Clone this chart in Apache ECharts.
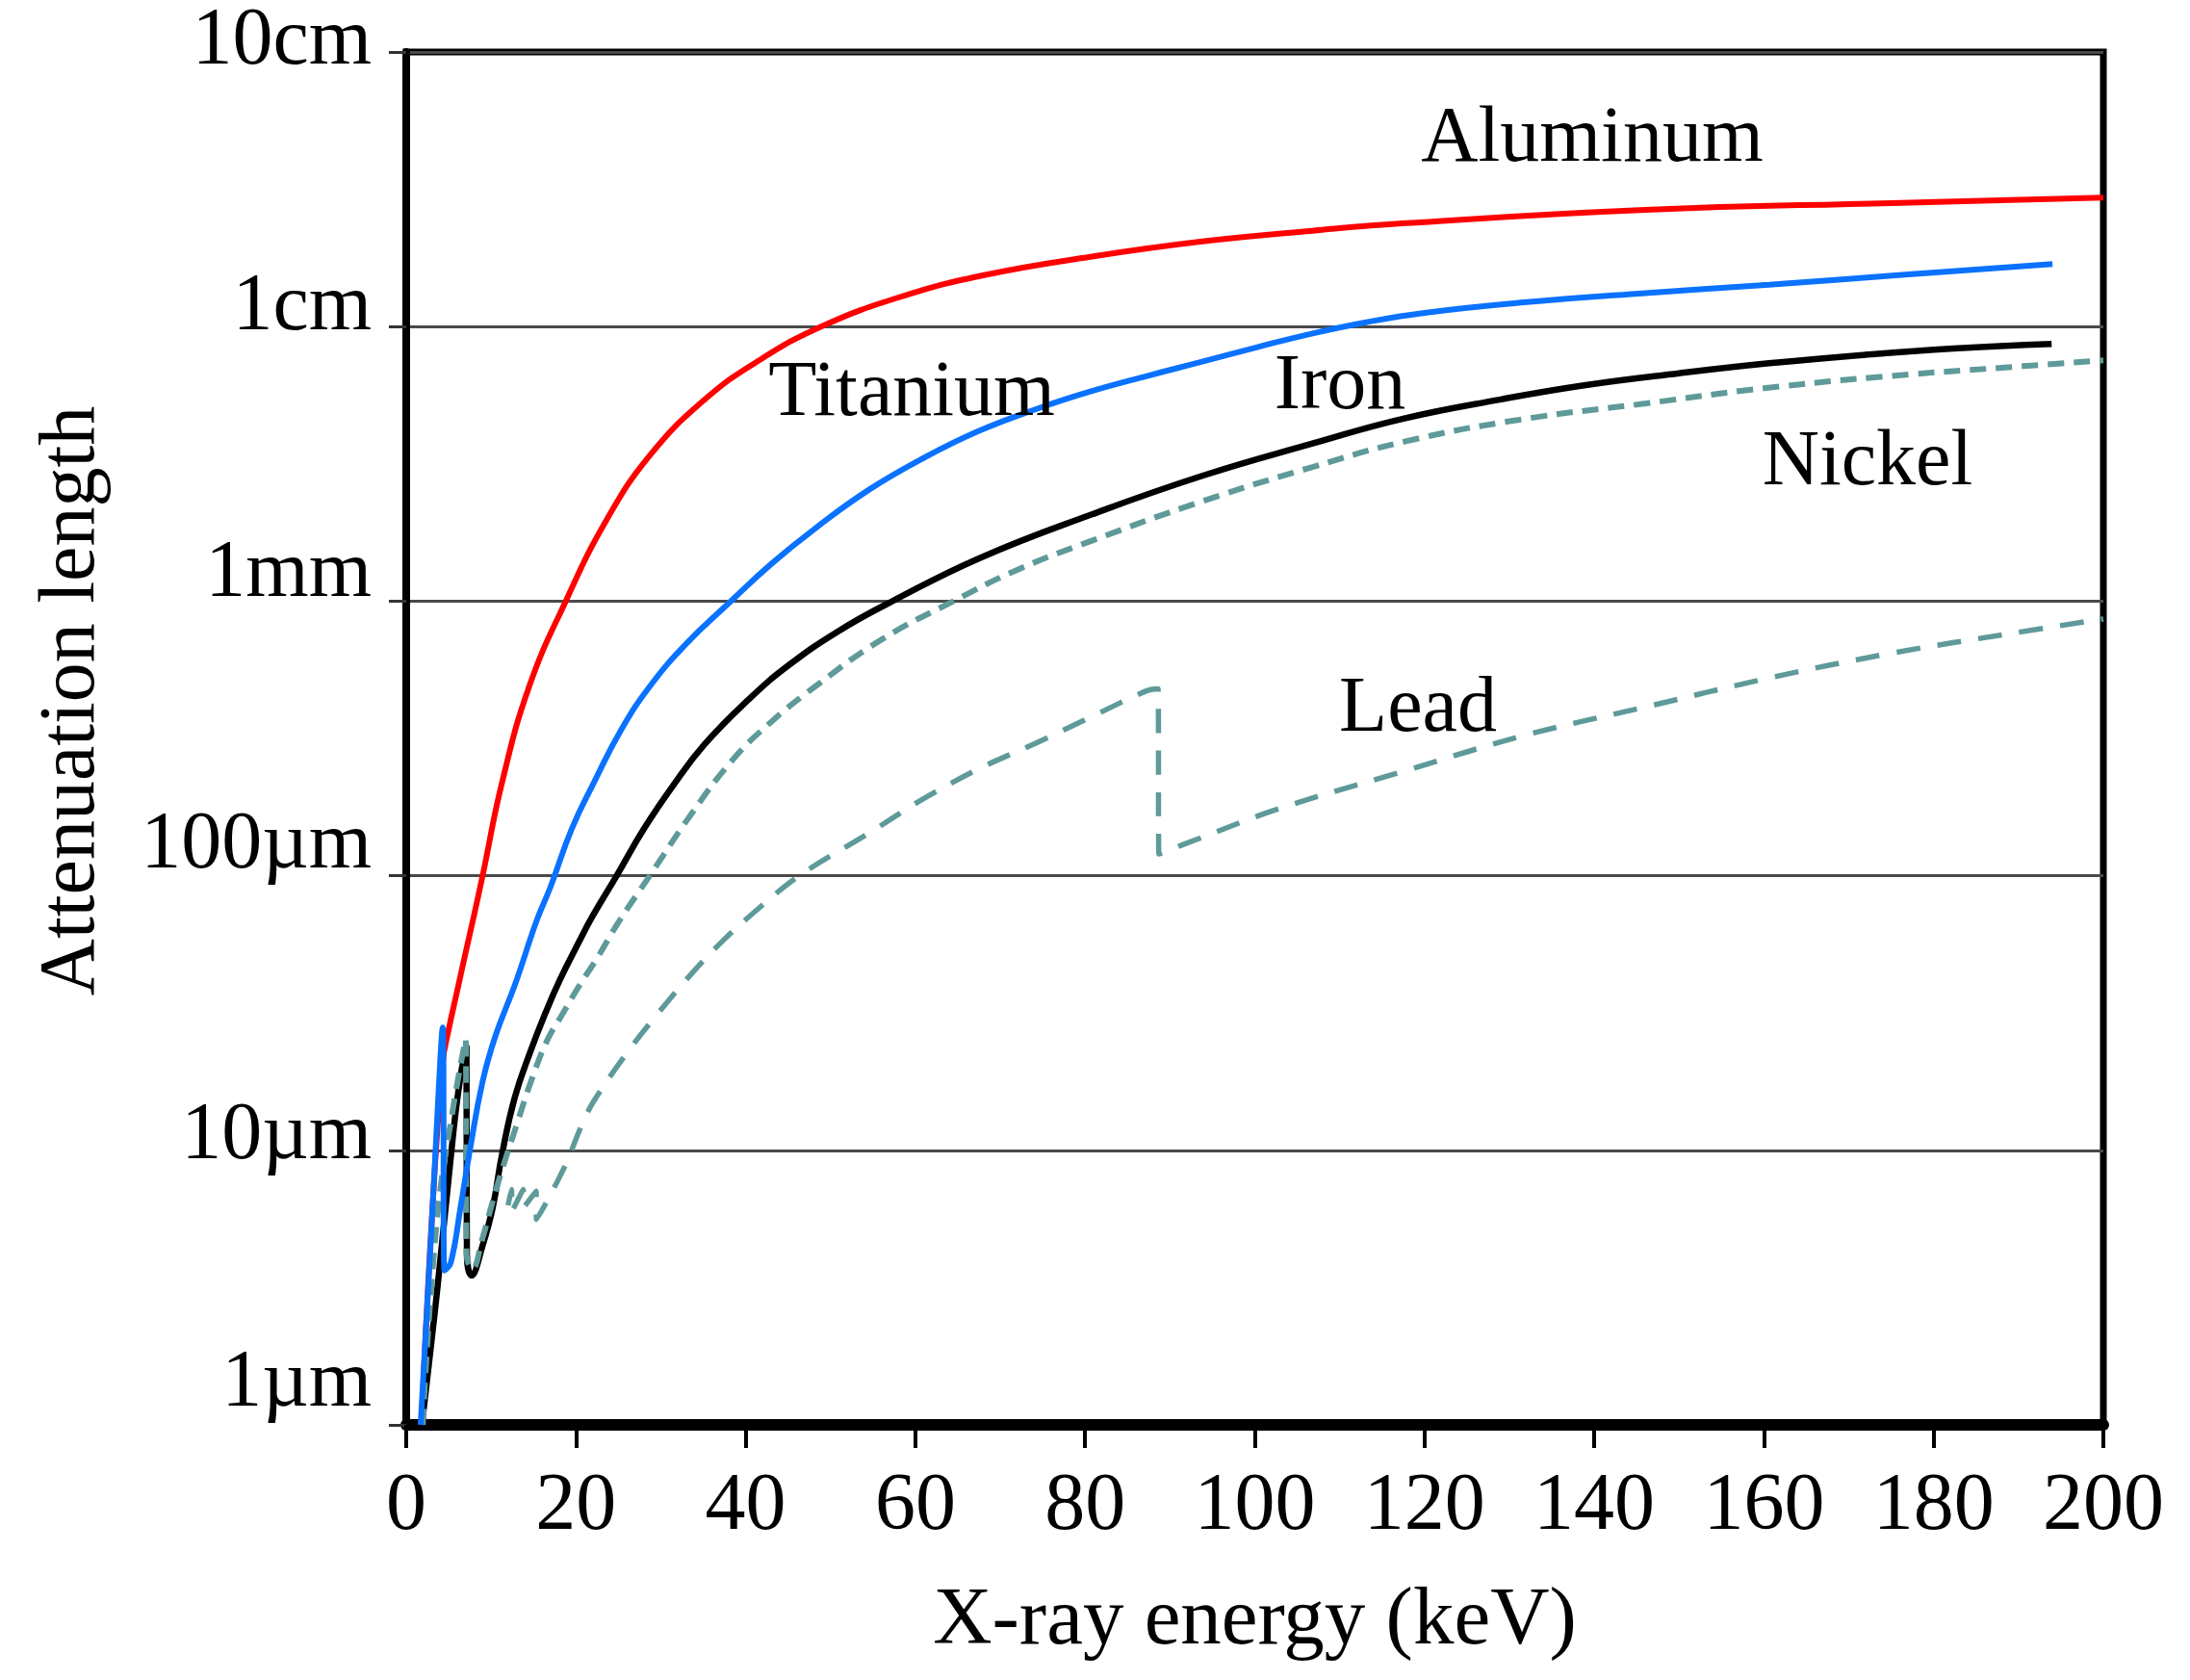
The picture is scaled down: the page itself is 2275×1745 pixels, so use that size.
<!DOCTYPE html>
<html>
<head>
<meta charset="utf-8">
<script src="https://cdn.jsdelivr.net/npm/echarts@6/dist/echarts.min.js"></script>
<style>
  html, body { margin: 0; padding: 0; background: #fff; }
  #chart { width: 2275px; height: 1745px; }
</style>
</head>
<body>
<div id="chart"></div>
<script>
// x axis (keV)
var xMin = 0, xMax = 200, xStep = 20;
// y axis (attenuation length in µm), one label per decade
var yTickValues = [1, 10, 100, 1000, 10000, 100000];
var yTickLabels = ['1µm', '10µm', '100µm', '1mm', '1cm', '10cm'];

// curves: energy (keV) / attenuation length (µm)
var alEnergy = [1.8, 3.0, 4.3, 5.0, 6.0, 7.0, 8.0, 9.0, 11.3, 14.5, 18.8, 23.5, 28.7, 35.2, 41.7, 48.9, 58, 67.7, 80.8, 93.8, 106.8, 117.8, 146, 175, 200];
var alLength = [1.0, 5.5, 20.9, 27.5, 38, 52.5, 72, 100, 219, 490, 1000, 1950, 3390, 5430, 7570, 10000, 12760, 15310, 17990, 20420, 22340, 23800, 26600, 28180, 29500];

var tiEnergy = [1.7, 3.0, 4.3, 4.5, 5.25, 6.4, 7.5, 9.0, 10.55, 12.8, 15.4, 17.0, 19.5, 22.2, 25.3, 28.7, 33, 38.1, 43, 48.2, 54.5, 61.2, 67.5, 74.3, 80.8, 87.3, 93.8, 100.3, 106.8, 113, 120, 131.7, 146, 160.6, 177, 194];
var tiLength = [1.0, 5.4, 28, 3.65, 3.9, 6.2, 10, 17.8, 26.3, 40, 69, 91, 148, 221, 339, 489, 700, 989, 1365, 1841, 2541, 3350, 4169, 5012, 5821, 6607, 7447, 8414, 9441, 10351, 11220, 12246, 13243, 14191, 15488, 16904];

var feEnergy = [1.85, 3.7, 5.6, 6.4, 7.1, 7.15, 7.7, 9.0, 10.2, 11.3, 12.8, 14.7, 16.4, 18.1, 20.2, 22, 24.8, 28, 31.5, 35.2, 40.3, 45, 51, 57.3, 67.7, 80.8, 93.8, 106.8, 117.5, 129, 139, 150, 160.6, 171, 182.3, 193.9];
var feLength = [1.0, 3.2, 12, 18.6, 23.8, 4.2, 3.5, 4.5, 6.2, 9.7, 15.6, 23.2, 31.6, 41.7, 56.2, 71.6, 100, 148, 214, 302, 437, 582, 780, 1000, 1440, 2070, 2860, 3750, 4620, 5430, 6120, 6760, 7350, 7850, 8320, 8650];

var niEnergy = [1.95, 3.6, 5.5, 7.0, 7.1, 7.8, 9.0, 10.7, 13.2, 14.7, 16.6, 18.3, 20.4, 22.5, 25, 28.7, 33.5, 38.5, 43, 48.2, 56, 64.5, 72, 80.8, 93.8, 106.8, 117.8, 131, 146.1, 160, 175, 188, 200];
var niLength = [1.0, 5.5, 14.1, 25.4, 4.2, 3.7, 4.8, 7.4, 12.9, 17.8, 25.1, 30.9, 39.8, 50.1, 67.6, 100, 166, 265, 363, 489, 724, 1000, 1300, 1660, 2310, 3080, 3820, 4570, 5250, 5960, 6610, 7080, 7530];

var pbEnergy = [12.0, 12.4, 12.45, 13.8, 13.85, 15.3, 15.35, 18.5, 20.8, 22.1, 25.9, 29.7, 33.4, 37.2, 41.5, 46.3, 54.7, 61, 67.7, 74, 80.8, 87.3, 88.6, 88.7, 93.8, 102.7, 117.5, 131.7, 146.1, 160.6, 175, 189.6, 200];
var pbLength = [6.3, 7.2, 6.0, 7.2, 6.2, 7.1, 5.6, 8.5, 12.6, 15.1, 22.4, 31.6, 43.2, 57.5, 75.9, 100, 144, 191, 247, 302, 380, 472, 479, 120, 138, 175, 240, 324, 412, 525, 646, 767, 861];

function pairs(xs, ys) {
  return xs.map(function (x, i) { return [x, ys[i]]; });
}

var serif = '"Liberation Serif", "Times New Roman", serif';
var teal = '#5e9a99';

// the tick labels sit a little above their grid lines in the original
var labelLift = [42, 14, 31, 27, 19, 10];
var yRich = {};
labelLift.forEach(function (lift, i) {
  yRich['t' + i] = { fontFamily: serif, fontSize: 84, color: '#000', padding: [0, 0, lift * 2, 0] };
});

var chart = echarts.init(document.getElementById('chart'));

var option = {
  animation: false,
  backgroundColor: '#fff',
  grid: {
    left: 422, right: 90, top: 54, bottom: 265,
    containLabel: false,
    outerBoundsMode: 'none',
    show: true, borderColor: '#000', borderWidth: 7
  },
  xAxis: {
    type: 'value',
    min: xMin, max: xMax, interval: xStep,
    name: 'X-ray energy (keV)',
    nameLocation: 'middle',
    nameGap: 162,
    nameTextStyle: { fontFamily: serif, fontSize: 85, color: '#000' },
    axisLine: { show: true, lineStyle: { color: '#000', width: 12 } },
    axisTick: { show: true, inside: false, length: 24, lineStyle: { color: '#000', width: 4 } },
    axisLabel: { fontFamily: serif, fontSize: 84, color: '#000', margin: 44 },
    splitLine: { show: false }
  },
  yAxis: {
    type: 'log',
    logBase: 10,
    min: yTickValues[0], max: yTickValues[yTickValues.length - 1],
    axisLine: { show: true, lineStyle: { color: '#000', width: 8 } },
    axisTick: { show: true, inside: false, length: 18, lineStyle: { color: '#333', width: 3 } },
    axisLabel: {
      fontFamily: serif, fontSize: 84, color: '#000', margin: 36,
      rich: yRich,
      formatter: function (v) {
        var i = yTickValues.indexOf(Math.round(v));
        return i >= 0 ? '{t' + i + '|' + yTickLabels[i] + '}' : '';
      }
    },
    splitLine: { show: true, lineStyle: { color: '#4a4a4a', width: 3 } },
    minorTick: { show: false }
  },
  series: [
    {
      name: 'Aluminum', type: 'line', data: pairs(alEnergy, alLength),
      symbol: 'none', smooth: 0.45, z: 2,
      lineStyle: { color: '#ff0000', width: 6 }
    },
    {
      name: 'Iron', type: 'line', data: pairs(feEnergy, feLength),
      symbol: 'none', smooth: 0.45, z: 3,
      lineStyle: { color: '#000', width: 6.5 }
    },
    {
      name: 'Nickel', type: 'line', data: pairs(niEnergy, niLength),
      symbol: 'none', smooth: 0.45, z: 4,
      lineStyle: { color: teal, width: 6, type: [17, 10] }
    },
    {
      name: 'Titanium', type: 'line', data: pairs(tiEnergy, tiLength),
      symbol: 'none', smooth: 0.45, z: 5,
      lineStyle: { color: '#0a72ff', width: 6 }
    },
    {
      name: 'Lead', type: 'line', data: pairs(pbEnergy, pbLength),
      symbol: 'none', smooth: 0.35, z: 6,
      lineStyle: { color: teal, width: 5.5, type: [25, 18] }
    }
  ],
  graphic: [
    { type: 'text', x: 75, y: 728, rotation: Math.PI / 2,
      style: { text: 'Attenuation length', font: '82px ' + serif, fill: '#000', align: 'center', verticalAlign: 'middle' } },
    { type: 'text', x: 1654, y: 145, z: 10,
      style: { text: 'Aluminum', font: '82px ' + serif, fill: '#000', align: 'center', verticalAlign: 'middle' } },
    { type: 'text', x: 947, y: 409, z: 10,
      style: { text: 'Titanium', font: '82px ' + serif, fill: '#000', align: 'center', verticalAlign: 'middle' } },
    { type: 'text', x: 1392, y: 402, z: 10,
      style: { text: 'Iron', font: '82px ' + serif, fill: '#000', align: 'center', verticalAlign: 'middle' } },
    { type: 'text', x: 1940, y: 481, z: 10,
      style: { text: 'Nickel', font: '82px ' + serif, fill: '#000', align: 'center', verticalAlign: 'middle' } },
    { type: 'text', x: 1473, y: 737, z: 10,
      style: { text: 'Lead', font: '82px ' + serif, fill: '#000', align: 'center', verticalAlign: 'middle' } }
  ]
};

chart.setOption(option);
</script>
</body>
</html>
